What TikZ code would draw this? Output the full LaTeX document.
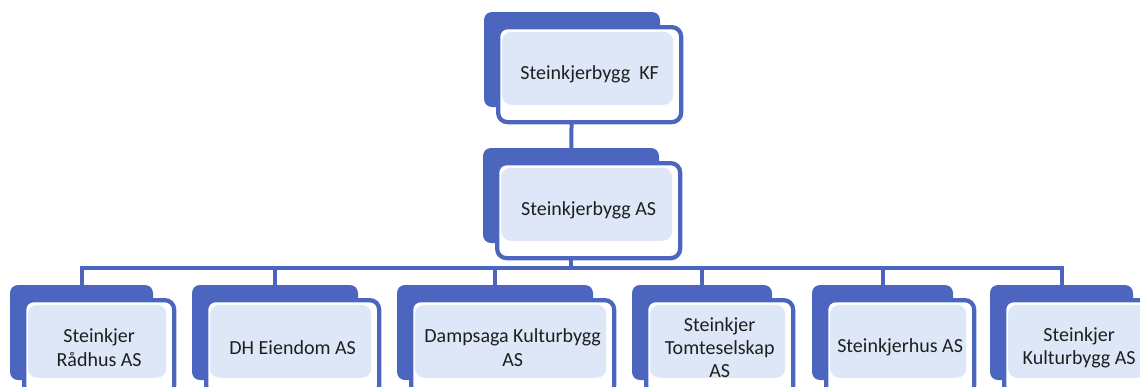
\documentclass[tikz,border=0pt]{standalone}
\usepackage{fontspec}
\setmainfont{Carlito}
\definecolor{orgblue}{HTML}{4C66C0}
\definecolor{paleblue}{HTML}{DDE7F7}
\definecolor{inktext}{HTML}{1F1F1F}
\pgfdeclarelayer{bg}
\pgfsetlayers{bg,main}
\tikzset{
  backtab/.style={fill=orgblue, rounded corners=6pt, inner sep=0pt, minimum height=71.25pt},
  frontbox/.style={draw=orgblue, line width=3.2pt, fill=white, rounded corners=7pt,
    anchor=north west, minimum height=71.25pt, align=center, text=inktext,
    font=\fontsize{15}{17.5}\selectfont,
    path picture={\fill[paleblue] ([shift={(3pt,-3.5pt)}]path picture bounding box.north west)
      rectangle ([shift={(-6pt,13pt)}]path picture bounding box.south east);}},
  link/.style={draw=orgblue, line width=3pt}
}
\newcommand\orgbox[5]{%
  \node[backtab, minimum width={#4*0.75pt}] (#1tab) at ({#2+#4/2},{#3+47.5}) {};
  \node[frontbox, minimum width={(#4+7)*0.75pt}] (#1) at ({#2+12},{#3+13}) {#5};
}

\begin{document}
\begin{tikzpicture}[x=0.75pt,y=-0.75pt]
                \useasboundingbox (0,0) rectangle (1140,386);
                \clip (0,0) rectangle (1140,386);
                \orgbox{kf}{484}{12}{176}{Steinkjerbygg\ \ KF}
                \orgbox{as}{483}{148}{176}{Steinkjerbygg AS}
                \orgbox{radhus}{10}{285}{143}{Steinkjer\\Rådhus AS}
                \orgbox{dh}{192}{285}{166}{DH Eiendom AS}
                \orgbox{dampsaga}{397}{285}{196}{Dampsaga Kulturbygg\\AS}
                \orgbox{tomt}{632}{285}{140}{Steinkjer\\Tomteselskap\\AS}
                \orgbox{husas}{812}{285}{141}{Steinkjerhus AS}
                \orgbox{kultur}{990}{285}{143}{Steinkjer\\Kulturbygg AS}
                \begin{pgfonlayer}{bg}
                \draw[link] (kftab.center) -- (astab.center);
                \coordinate (bus) at (astab.center |- 0,268);
                \draw[link] (astab.center) -- (bus);
                \foreach \c in {radhus,dh,dampsaga,tomt,husas,kultur}
                    \draw[link] (bus) -| (\c tab.center);
                \end{pgfonlayer}
\end{tikzpicture}
\end{document}
